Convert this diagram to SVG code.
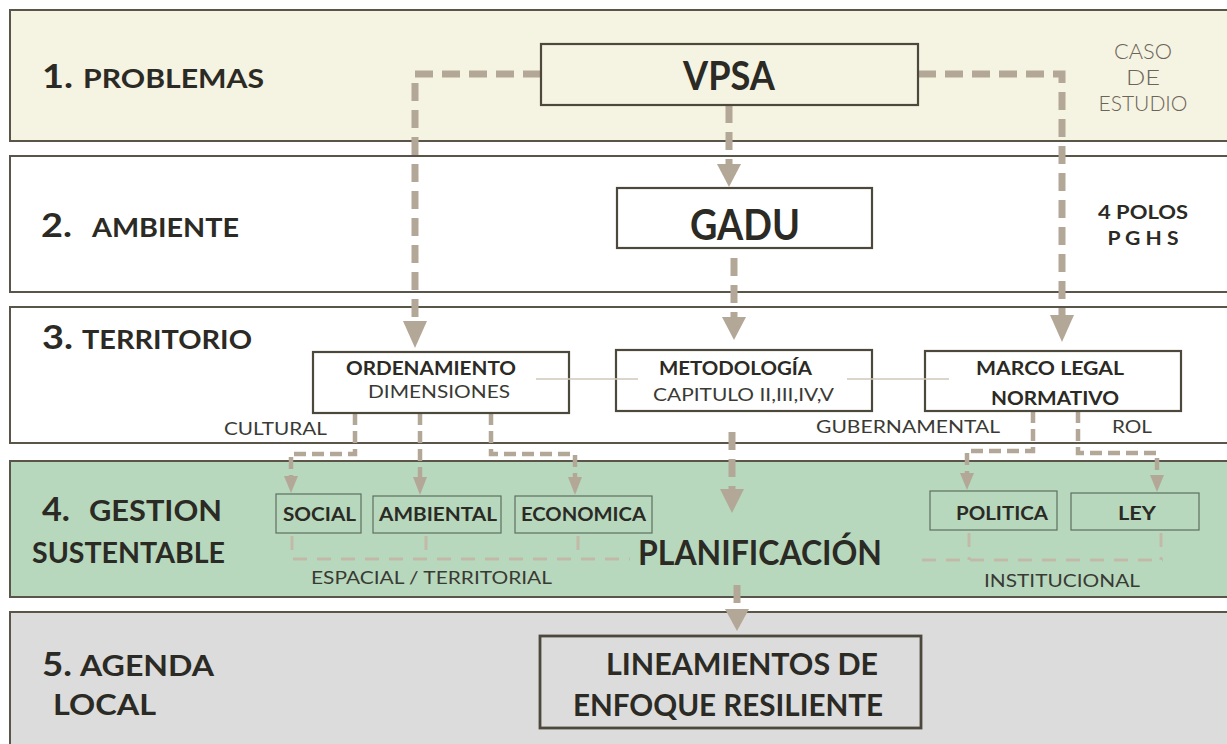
<svg xmlns="http://www.w3.org/2000/svg" width="1227" height="744" viewBox="0 0 1227 744">
<defs>
<style>
.band{stroke:#5b5448;stroke-width:2}
.box{stroke:#4d483c;stroke-width:2.2;fill:#ffffff}
.sub{stroke:#5e6e5f;stroke-width:1.2;fill:none}
.hd{font-family:Lato,"Liberation Sans",sans-serif;font-weight:700;fill:#2b2a24}
.bx{font-family:Lato,"Liberation Sans",sans-serif;font-weight:700;fill:#2b2a24}
.lt{font-family:Lato,"Liberation Sans",sans-serif;font-weight:400;fill:#3a3a34}
.lg{font-family:Lato,"Liberation Sans",sans-serif;font-weight:300;fill:#6b6458}
.big{fill:none;stroke:#b3a897;stroke-width:7;stroke-dasharray:18 9}
.mid{fill:none;stroke:#b3a897;stroke-width:4.5;stroke-dasharray:12 6}
.thin{fill:none;stroke:#c2b9a9;stroke-width:3;stroke-dasharray:14 10}
.sol{fill:none;stroke:#cfc9bb;stroke-width:1.5}
.ah{fill:#b3a897}
</style>
</defs>
<rect width="1227" height="744" fill="#ffffff"/>
<g id="bands">
<rect class="band" x="10" y="10" width="1230" height="131" fill="#f5f3e1"/>
<rect class="band" x="10" y="156" width="1230" height="136" fill="#ffffff"/>
<rect class="band" x="10" y="307" width="1230" height="136" fill="#ffffff"/>
<rect class="band" x="10" y="461" width="1230" height="136" fill="#b7d8bd"/>
<rect class="band" x="10" y="612" width="1230" height="140" fill="#dcdcdc"/>
</g>
<g id="band-labels">
<text class="hd" x="42" y="88" font-size="32" textLength="31" lengthAdjust="spacingAndGlyphs">1.</text>
<text class="hd" x="83" y="88" font-size="27" textLength="181" lengthAdjust="spacingAndGlyphs">PROBLEMAS</text>
<text class="hd" x="41" y="237" font-size="32" textLength="31" lengthAdjust="spacingAndGlyphs">2.</text>
<text class="hd" x="92" y="237" font-size="27" textLength="147" lengthAdjust="spacingAndGlyphs">AMBIENTE</text>
<text class="hd" x="42" y="349" font-size="32" textLength="31" lengthAdjust="spacingAndGlyphs">3.</text>
<text class="hd" x="82" y="349" font-size="27" textLength="170" lengthAdjust="spacingAndGlyphs">TERRITORIO</text>
<text class="hd" x="42" y="521" font-size="33" textLength="28" lengthAdjust="spacingAndGlyphs">4.</text>
<text class="hd" x="89" y="521" font-size="29" textLength="133" lengthAdjust="spacingAndGlyphs">GESTION</text>
<text class="hd" x="32" y="563" font-size="29" textLength="193" lengthAdjust="spacingAndGlyphs">SUSTENTABLE</text>
<text class="hd" x="42" y="676" font-size="33" textLength="30" lengthAdjust="spacingAndGlyphs">5.</text>
<text class="hd" x="80" y="676" font-size="28" textLength="134" lengthAdjust="spacingAndGlyphs">AGENDA</text>
<text class="hd" x="53" y="715" font-size="28" textLength="103" lengthAdjust="spacingAndGlyphs">LOCAL</text>
</g>
<g id="side-notes">
<text class="lg" x="1143" y="59" font-size="21" text-anchor="middle" textLength="58" lengthAdjust="spacingAndGlyphs">CASO</text>
<text class="lg" x="1143" y="85" font-size="21" text-anchor="middle" textLength="34" lengthAdjust="spacingAndGlyphs">DE</text>
<text class="lg" x="1143" y="111" font-size="21" text-anchor="middle" textLength="89" lengthAdjust="spacingAndGlyphs">ESTUDIO</text>
<text class="hd" x="1143" y="219" font-size="19" text-anchor="middle" textLength="90" lengthAdjust="spacingAndGlyphs">4 POLOS</text>
<text class="hd" x="1143" y="245" font-size="19" text-anchor="middle" textLength="71" lengthAdjust="spacingAndGlyphs">P G H S</text>
</g>
<g id="connectors">
<path class="big" d="M541,74 H415 V322"/>
<polygon class="ah" points="403,321 427,321 415,348"/>
<path class="big" d="M918,74 H1062 V316"/>
<polygon class="ah" points="1050,315 1074,315 1062,342"/>
<path class="big" d="M729,105 V165"/>
<polygon class="ah" points="717,164 741,164 729,187"/>
<path class="big" d="M734,258 V318"/>
<polygon class="ah" points="722,317 746,317 734,340"/>
<path class="big" d="M732,432 V490"/>
<polygon class="ah" points="720,489 744,489 732,513"/>
<path class="big" d="M737,585 V610"/>
<polygon class="ah" points="725,609 749,609 737,631"/>
<path class="mid" d="M355,413 V454 H291 V477"/>
<polygon class="ah" points="284,476 298,476 291,493"/>
<path class="mid" d="M420,413 V478"/>
<polygon class="ah" points="413,477 427,477 420,495"/>
<path class="mid" d="M491,413 V454 H575 V478"/>
<polygon class="ah" points="568,477 582,477 575,495"/>
<path class="mid" d="M1033,411 V451 H967 V474"/>
<polygon class="ah" points="960,473 974,473 967,490"/>
<path class="mid" d="M1078,411 V453 H1157 V476"/>
<polygon class="ah" points="1150,475 1164,475 1157,492"/>
<path class="thin" d="M292,536 V559 H630"/>
<path class="thin" d="M426,536 V559"/>
<path class="thin" d="M578,536 V559"/>
<path class="thin" d="M922,560 H1163"/>
<path class="thin" d="M969,533 V560"/>
<path class="thin" d="M1161,533 V560"/>
</g>
<g id="vpsa">
<rect class="box" x="541" y="44" width="377" height="61" style="fill:none"/>
<text class="bx" x="729" y="90" font-size="40" text-anchor="middle" textLength="92" lengthAdjust="spacingAndGlyphs">VPSA</text>
</g>
<g id="gadu">
<rect class="box" x="617" y="188" width="255" height="60"/>
<text class="bx" x="745" y="240" font-size="42" text-anchor="middle" textLength="110" lengthAdjust="spacingAndGlyphs">GADU</text>
</g>
<g id="ordenamiento">
<rect class="box" x="313" y="352" width="256" height="61"/>
<text class="bx" x="431" y="375" font-size="18" text-anchor="middle" textLength="170" lengthAdjust="spacingAndGlyphs">ORDENAMIENTO</text>
<text class="lt" x="439" y="398" font-size="18" text-anchor="middle" textLength="142" lengthAdjust="spacingAndGlyphs">DIMENSIONES</text>
</g>
<g id="metodologia">
<rect class="box" x="616" y="350" width="256" height="61"/>
<text class="bx" x="659" y="375" font-size="18" textLength="153" lengthAdjust="spacingAndGlyphs">METODOLOGÍA</text>
<text class="lt" x="653" y="401" font-size="18" textLength="181" lengthAdjust="spacingAndGlyphs">CAPITULO II,III,IV,V</text>
</g>
<g id="marco-legal">
<rect class="box" x="925" y="351" width="256" height="60"/>
<text class="bx" x="1050" y="375" font-size="18" text-anchor="middle" textLength="148" lengthAdjust="spacingAndGlyphs">MARCO LEGAL</text>
<text class="bx" x="1055" y="405" font-size="18" text-anchor="middle" textLength="128" lengthAdjust="spacingAndGlyphs">NORMATIVO</text>
</g>
<g id="links">
<path class="sol" d="M536,379 H638"/>
<path class="sol" d="M847,379 H949"/>
</g>
<g id="dimension-labels">
<text class="lt" x="224" y="435" font-size="17" textLength="103" lengthAdjust="spacingAndGlyphs">CULTURAL</text>
<text class="lt" x="816" y="433" font-size="17" textLength="184" lengthAdjust="spacingAndGlyphs">GUBERNAMENTAL</text>
<text class="lt" x="1112" y="433" font-size="17" textLength="40" lengthAdjust="spacingAndGlyphs">ROL</text>
<text class="lt" x="311" y="584" font-size="17" textLength="241" lengthAdjust="spacingAndGlyphs">ESPACIAL / TERRITORIAL</text>
<text class="lt" x="984" y="587" font-size="17" textLength="156" lengthAdjust="spacingAndGlyphs">INSTITUCIONAL</text>
</g>
<g id="social">
<rect class="sub" x="276" y="494" width="85" height="39"/>
<text class="bx" x="283" y="521" font-size="19" textLength="73" lengthAdjust="spacingAndGlyphs">SOCIAL</text>
</g>
<g id="ambiental">
<rect class="sub" x="373" y="496" width="128" height="37"/>
<text class="bx" x="379" y="521" font-size="19" textLength="118" lengthAdjust="spacingAndGlyphs">AMBIENTAL</text>
</g>
<g id="economica">
<rect class="sub" x="515" y="496" width="137" height="37"/>
<text class="bx" x="521" y="521" font-size="19" textLength="125" lengthAdjust="spacingAndGlyphs">ECONOMICA</text>
</g>
<g id="politica">
<rect class="sub" x="930" y="491" width="127" height="39"/>
<text class="bx" x="956" y="520" font-size="19" textLength="92" lengthAdjust="spacingAndGlyphs">POLITICA</text>
</g>
<g id="ley">
<rect class="sub" x="1071" y="493" width="128" height="37"/>
<text class="bx" x="1118" y="520" font-size="19" textLength="38" lengthAdjust="spacingAndGlyphs">LEY</text>
</g>
<g id="planificacion">
<text class="bx" x="638" y="565" font-size="34" textLength="244" lengthAdjust="spacingAndGlyphs">PLANIFICACIÓN</text>
</g>
<g id="lineamientos">
<rect class="box" x="540" y="636" width="381" height="92" style="fill:none;stroke-width:2.8"/>
<text class="bx" x="606" y="675" font-size="30" textLength="272" lengthAdjust="spacingAndGlyphs">LINEAMIENTOS DE</text>
<text class="bx" x="573" y="716" font-size="30" textLength="310" lengthAdjust="spacingAndGlyphs">ENFOQUE RESILIENTE</text>
</g>
</svg>
